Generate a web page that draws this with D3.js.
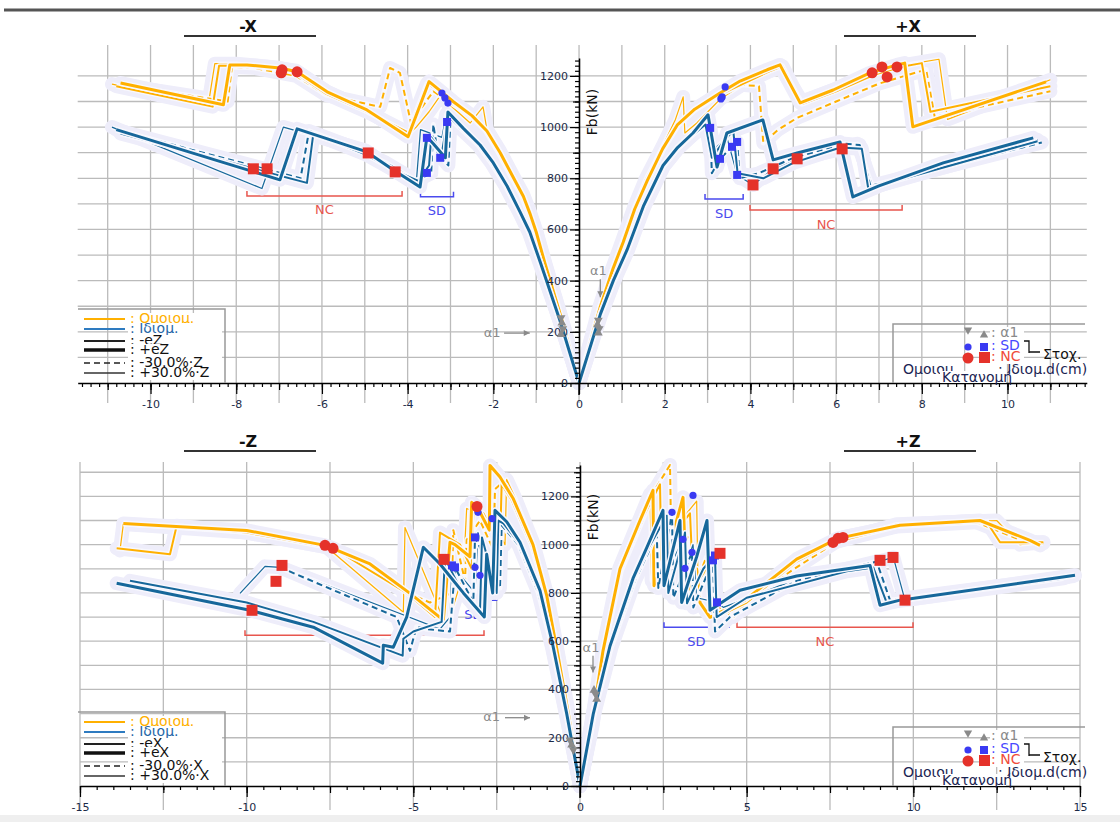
<!DOCTYPE html>
<html>
<head>
<meta charset="utf-8">
<script src="https://cdn.jsdelivr.net/npm/d3@7"></script>
<style>
  body { margin: 0; background: #fff; }
  svg { display: block; }
  text { font-family: "DejaVu Sans", sans-serif; }
</style>
</head>
<body>
<svg id="chart" width="1120" height="822"></svg>
<script>
// ---- tick values ----
const xTicksTop = [-10, -8, -6, -4, -2, 0, 2, 4, 6, 8, 10];
const xTicksBottom = [-15, -10, -5, 0, 5, 10, 15];
const yTicks = [0, 200, 400, 600, 800, 1000, 1200];
const legendNames = ['Ομοιομ.', 'Ιδιομ.', '-e', '+e', '-30.0%·', '+30.0%·'];

// ---- pushover curves, [d(cm), Fb(kN)] ----
// -X
const mX_O_pe = [[0,0],[-0.4,246],[-0.8,470],[-1.0,590],[-1.14,660],[-1.3,730],[-1.54,805],[-1.84,900],[-2.15,985],[-2.5,1045],[-2.94,1100],[-3.3,1150],[-3.5,1178],[-3.99,962],[-4.95,1067],[-5.88,1138],[-6.58,1216],[-6.98,1231],[-7.75,1243],[-8.15,1243],[-8.3,1087],[-10.7,1172]];
const mX_O_ne = [[0,0],[-0.4,240],[-0.8,465],[-1.0,585],[-1.15,655],[-1.3,725],[-1.54,800],[-1.84,895],[-2.15,980],[-2.5,1040],[-2.94,1095],[-3.35,1150],[-3.55,1170],[-3.85,1040],[-3.95,975],[-4.95,1060],[-5.9,1130],[-6.6,1210],[-7.0,1228],[-7.9,1240],[-8.4,1240],[-8.55,1080],[-10.8,1160]];
const mX_O_np = [[0,0],[-0.42,245],[-0.85,480],[-1.05,595],[-1.2,665],[-1.35,735],[-1.6,810],[-1.9,905],[-2.2,990],[-2.6,1052],[-3.0,1095],[-3.4,1140],[-3.7,1070],[-3.9,1000],[-4.18,1212],[-4.41,1231],[-4.64,1079],[-5.9,1125],[-6.6,1200],[-7.6,1232],[-8.1,1235],[-8.2,1100],[-10.5,1160]];
const mX_O_pp = [[0,0],[-0.4,250],[-0.8,475],[-1.0,595],[-1.14,665],[-1.3,735],[-1.54,810],[-1.84,905],[-2.15,990],[-2.24,1079],[-2.54,1016],[-2.9,1070],[-3.25,1120],[-3.5,1060],[-3.8,1000],[-4.0,968],[-5.0,1070],[-5.9,1140],[-6.6,1220],[-7.2,1235],[-8.0,1248],[-8.5,1248],[-8.65,1090],[-10.9,1168]];
const mX_B_pe = [[0,0],[-0.45,246],[-0.9,470],[-1.15,590],[-1.38,670],[-1.68,770],[-2.0,860],[-2.31,930],[-2.7,995],[-3.06,1059],[-3.12,880],[-3.4,935],[-3.55,962],[-3.71,766],[-4.34,833],[-4.95,903],[-6.58,993],[-6.98,794],[-10.8,990]];
const mX_B_ne = [[0,0],[-0.45,240],[-0.9,465],[-1.15,585],[-1.38,665],[-1.7,768],[-2.0,856],[-2.31,925],[-2.7,990],[-3.0,1035],[-3.08,1020],[-3.2,900],[-3.45,960],[-3.5,850],[-3.75,790],[-4.3,830],[-5.0,895],[-6.2,975],[-6.35,782],[-10.7,975]];
const mX_B_np = [[0,0],[-0.46,245],[-0.92,468],[-1.17,588],[-1.4,668],[-1.72,770],[-2.05,860],[-2.35,928],[-2.75,992],[-3.0,1030],[-3.05,850],[-3.3,900],[-3.4,1010],[-3.45,820],[-3.8,790],[-4.5,860],[-5.2,915],[-6.3,985],[-6.5,800],[-10.6,980]];
const mX_B_pp = [[0,0],[-0.44,248],[-0.88,472],[-1.13,592],[-1.36,672],[-1.66,772],[-1.98,862],[-2.3,932],[-2.68,998],[-3.1,1050],[-3.2,960],[-3.7,990],[-3.8,780],[-4.25,825],[-5.0,910],[-6.9,1000],[-7.4,760],[-10.9,1000]];
// +X
const pX_O_pe = [[0,0],[0.5,300],[0.8,450],[1.03,550],[1.3,680],[1.59,790],[1.95,915],[2.3,1010],[2.7,1070],[3.29,1133],[3.76,1180],[4.39,1224],[4.69,1243],[5.16,1095],[5.93,1145],[6.79,1212],[7.42,1243],[7.6,1250],[7.79,1001],[10.9,1177]];
const pX_O_ne = [[0,0],[0.5,295],[0.8,445],[1.03,545],[1.3,675],[1.6,785],[1.95,910],[2.3,1005],[2.7,1065],[3.3,1128],[3.9,1175],[4.4,1215],[4.75,1238],[5.2,1090],[6.0,1140],[6.9,1205],[7.5,1235],[8.0,1250],[8.2,1060],[11.0,1160]];
const pX_O_np = [[0,0],[0.52,300],[0.82,450],[1.05,548],[1.32,678],[1.6,785],[1.97,912],[2.32,1008],[2.72,1068],[3.3,1128],[3.8,1165],[4.2,1160],[4.3,938],[4.64,989],[5.09,1036],[6.0,1100],[7.0,1170],[7.9,1215],[8.1,1225],[8.3,1040],[11.0,1140]];
const pX_O_pp = [[0,0],[0.48,300],[0.78,450],[1.0,552],[1.28,685],[1.55,795],[1.95,925],[2.25,1030],[2.43,1118],[2.47,977],[2.75,1016],[3.3,1110],[3.8,1165],[4.3,1210],[4.7,1235],[5.2,1100],[6.0,1150],[6.9,1215],[7.5,1240],[8.4,1265],[8.6,1030],[11.0,1185]];
const pX_B_pe = [[0,0],[0.5,270],[0.8,400],[1.12,520],[1.5,690],[1.96,850],[2.3,920],[2.66,977],[3.01,1048],[3.22,844],[3.45,977],[4.29,1028],[4.53,872],[5.09,899],[6.09,942],[6.39,727],[7.0,770],[8.5,860],[10.6,958]];
const pX_B_ne = [[0,0],[0.5,265],[0.8,395],[1.12,515],[1.5,685],[1.96,845],[2.3,915],[2.66,970],[2.95,1010],[3.1,880],[3.4,950],[3.6,985],[3.7,820],[4.3,800],[5.0,860],[6.1,920],[6.6,915],[6.75,760],[10.7,945]];
const pX_B_np = [[0,0],[0.52,268],[0.82,398],[1.14,518],[1.52,688],[1.98,848],[2.32,918],[2.68,975],[2.9,1000],[3.06,997],[3.1,820],[3.29,876],[3.57,923],[3.69,942],[3.75,800],[4.2,820],[5.0,880],[6.2,935],[6.55,930],[6.8,770],[10.8,940]];
const pX_B_pp = [[0,0],[0.48,272],[0.78,402],[1.1,522],[1.48,692],[1.94,852],[2.28,922],[2.64,980],[2.99,1016],[3.06,900],[3.45,960],[3.69,813],[4.06,774],[4.53,837],[5.09,876],[6.14,915],[6.5,935],[6.86,766],[10.7,950]];
// -Z
const mZ_O_pe = [[0,0],[-0.35,300],[-0.69,563],[-1.0,790],[-1.41,1000],[-2.0,1190],[-2.4,1280],[-2.7,1328],[-2.72,1060],[-3.09,1158],[-3.25,1175],[-3.3,950],[-3.75,1000],[-3.9,1010],[-4.1,687],[-5.1,798],[-6.3,920],[-7.65,997],[-10,1059],[-13.7,1088]];
const mZ_O_ne = [[0,0],[-0.35,295],[-0.7,560],[-1.02,785],[-1.45,995],[-2.05,1185],[-2.35,1250],[-2.4,1000],[-2.9,1130],[-3.2,1140],[-3.25,900],[-3.6,1000],[-4.2,1050],[-4.35,700],[-5.2,800],[-7.4,985],[-10,1050],[-12.1,1078],[-12.3,960],[-13.9,985]];
const mZ_O_np = [[0,0],[-0.36,298],[-0.7,560],[-1.02,788],[-1.45,998],[-2.05,1190],[-2.3,1260],[-2.55,1230],[-2.6,980],[-3.0,1100],[-3.4,1020],[-3.45,850],[-3.8,1060],[-3.85,800],[-4.5,760],[-5.0,790],[-7.5,990],[-10,1055],[-13.5,1085]];
const mZ_O_pp = [[0,0],[-0.34,302],[-0.68,566],[-0.99,795],[-1.4,1005],[-1.95,1195],[-2.2,1270],[-2.25,1000],[-2.6,1100],[-3.4,1150],[-3.5,880],[-3.9,700],[-4.05,674],[-5.25,1071],[-5.3,720],[-7.6,990],[-10,1050],[-13.7,1085],[-13.8,976]];
const mZ_B_pe = [[0,0],[-0.4,300],[-0.81,580],[-1.2,810],[-1.8,1010],[-2.2,1095],[-2.55,1142],[-2.62,800],[-2.8,960],[-2.87,700],[-3.5,800],[-4.2,920],[-4.7,989],[-5.2,700],[-5.6,575],[-5.9,583],[-5.92,509],[-8.0,658],[-9.9,728],[-13.9,840]];
const mZ_B_ne = [[0,0],[-0.41,297],[-0.83,578],[-1.22,805],[-1.82,1005],[-2.3,1088],[-2.45,1100],[-2.5,800],[-2.94,1030],[-3.0,720],[-3.6,820],[-4.05,943],[-4.15,680],[-5.0,640],[-5.3,610],[-5.32,540],[-8.0,680],[-10,760],[-13.5,850]];
const mZ_B_np = [[0,0],[-0.42,295],[-0.84,575],[-1.25,800],[-1.85,1000],[-2.35,1080],[-2.4,820],[-3.15,1030],[-3.2,760],[-3.75,906],[-3.9,640],[-4.6,650],[-4.9,660],[-5.1,560],[-5.5,700],[-9.0,906]];
const mZ_B_pp = [[0,0],[-0.4,302],[-0.8,585],[-1.19,815],[-1.78,1013],[-2.5,1130],[-2.6,1140],[-2.65,850],[-3.06,1050],[-3.15,800],[-3.84,914],[-3.9,700],[-4.2,650],[-5.5,720],[-9.0,906],[-9.45,910],[-10.2,798]];
// +Z
const pZ_O_pe = [[0,0],[0.35,250],[0.69,560],[1.2,900],[1.8,1100],[2.19,1225],[2.22,830],[2.7,1000],[3.09,1196],[3.2,800],[3.5,900],[3.6,760],[3.9,699],[4.95,770],[6.5,940],[7.74,1026],[9.6,1080],[12,1100],[13.5,1018],[13.8,997]];
const pZ_O_ne = [[0,0],[0.36,248],[0.7,556],[1.22,895],[1.82,1095],[2.4,1250],[2.45,880],[2.9,1060],[3.3,1130],[3.4,820],[3.8,900],[4.1,700],[5.0,760],[6.5,930],[7.6,1009],[9.5,1075],[12.2,1095],[12.6,1010],[13.9,1010]];
const pZ_O_np = [[0,0],[0.37,246],[0.71,553],[1.24,892],[1.85,1092],[2.3,1240],[2.7,1330],[2.75,900],[3.3,1050],[3.35,800],[3.8,950],[4.0,760],[4.6,700],[5.2,790],[7.89,1030],[9.8,1085],[11.8,1098],[13.2,1020],[13.9,1005]];
const pZ_O_pp = [[0,0],[0.34,252],[0.68,563],[1.18,903],[1.78,1103],[2.1,1210],[2.15,850],[2.6,1030],[3.5,1180],[3.55,760],[4.1,700],[5.0,780],[7.6,1009],[9.5,1085],[12.5,1100],[13.2,1000],[13.9,1010]];
const pZ_B_pe = [[0,0],[0.4,300],[0.9,580],[1.59,860],[2.01,990],[2.49,1142],[2.52,830],[3.0,1100],[3.05,760],[3.5,950],[3.81,1100],[3.9,728],[4.8,811],[6.5,870],[8.7,914],[9.0,749],[9.6,770],[14.85,873]];
const pZ_B_ne = [[0,0],[0.41,297],[0.92,576],[1.62,855],[2.05,985],[2.6,1120],[2.65,800],[3.15,1050],[3.21,757],[3.7,900],[4.05,955],[4.1,700],[5.0,780],[8.0,890],[8.8,905],[9.2,760],[14.5,860]];
const pZ_B_np = [[0,0],[0.42,295],[0.94,573],[1.65,852],[2.1,982],[2.3,1060],[2.35,820],[2.76,1134],[2.8,780],[3.36,968],[3.4,740],[3.99,935],[4.05,640],[4.5,700],[6.5,850],[8.9,930],[9.3,770],[14.6,865]];
const pZ_B_pp = [[0,0],[0.39,302],[0.88,583],[1.56,864],[1.98,995],[2.45,1130],[2.5,850],[3.09,1022],[3.15,902],[3.39,1000],[3.5,780],[4.11,761],[4.3,740],[6.0,830],[8.7,920],[9.4,947],[9.75,770],[14.8,870]];

// ---- performance points ----
const redCirclesX = [[-6.93,1224],[-6.58,1216],[-6.95,1212],[6.84,1212],[7.07,1235],[7.19,1196],[7.42,1235]];
const redSquaresX = [[-7.6,837],[-7.28,837],[-4.92,899],[-4.29,825],[4.06,774],[4.53,837],[5.09,876],[6.14,915]];
const blueDotsX = [[-3.2,1133],[-3.13,1114],[-3.06,1094],[3.41,1157],[3.34,1118],[3.31,1110]];
const blueSquaresX = [[-3.55,958],[-3.55,821],[-3.24,880],[-3.08,1020],[3.06,997],[3.29,876],[3.57,923],[3.69,942],[3.69,813]];
const alphaX = [[-0.42,255],[-0.4,235],[-0.38,212],[-0.42,190],[0.45,245],[0.43,228],[0.47,212],[0.45,196]];
const redCirclesZ = [[-3.09,1158],[-7.65,997],[-7.41,985],[7.59,1009],[7.74,1026],[7.89,1030]];
const redSquaresZ = [[-9.84,728],[-9.12,848],[-8.94,914],[-4.08,939],[4.2,964],[9.0,935],[9.39,947],[9.75,770]];
const blueDotsZ = [[-3.06,1134],[-2.64,1108],[-3.15,906],[-3.0,873],[3.39,1204],[2.76,1134],[3.09,1022],[3.36,968],[3.15,902]];
const blueSquaresZ = [[-3.15,1030],[-3.84,914],[-3.75,906],[3.99,935],[4.05,955],[4.11,761]];
const alphaZ = [[-0.3,190],[-0.25,170],[-0.2,150],[0.42,397],[0.47,380],[0.5,360]];

// ---- SD / NC ranges ----
const rangesX = [
  { lab: 'NC', x0: -7.75, x1: -4.13, lvl: 731 },
  { lab: 'SD', x0: -3.7, x1: -2.93, lvl: 728 },
  { lab: 'SD', x0: 2.94, x1: 3.83, lvl: 719 },
  { lab: 'NC', x0: 3.99, x1: 7.54, lvl: 676 }
];
const rangesZ = [
  { lab: 'NC', x0: -10.05, x1: -2.88, lvl: 625 },
  { lab: 'SD', x0: -3.9, x1: -2.5, lvl: 770 },
  { lab: 'SD', x0: 2.52, x1: 4.47, lvl: 658 },
  { lab: 'NC', x0: 4.71, x1: 9.99, lvl: 658 }
];

const ORANGE = '#FFB000', BLUE = '#16679A', RED = '#E5322A', MBLUE = '#3A3AF2', GRAY = '#8A8A8A';
const STYLE = {
  ne: { w: 2, dash: null },
  pe: { w: 3, dash: null },
  np: { w: 2, dash: '6,4' },
  pp: { w: 1.2, dash: null }
};

const svg = d3.select('#chart');

function group(col, sets) {
  return [['pp', sets.pp], ['np', sets.np], ['ne', sets.ne], ['pe', sets.pe]]
    .map(([st, pts]) => ({ col, st, pts }));
}

const panels = [
  {
    xDomain: [-11.7, 11.85], xRange: [77.7, 1086.8], yDomain: [0, 1270], yRange: [383, 58],
    gridX: d3.range(-11, 12, 1), gridY: d3.range(100, 1201, 100), gridTop: 45, gridBelow: 20,
    xTicks: xTicksTop, xMid: d3.range(-11, 12, 1), xMinor: d3.range(-58, 60).map(i => i / 5),
    fbAt: 1059, dir: 'Z', titles: [['-X', 248], ['+X', 908]], titleY: 27,
    curves: [
      ...group(ORANGE, { pe: mX_O_pe, ne: mX_O_ne, np: mX_O_np, pp: mX_O_pp }),
      ...group(ORANGE, { pe: pX_O_pe, ne: pX_O_ne, np: pX_O_np, pp: pX_O_pp }),
      ...group(BLUE, { pe: mX_B_pe, ne: mX_B_ne, np: mX_B_np, pp: mX_B_pp }),
      ...group(BLUE, { pe: pX_B_pe, ne: pX_B_ne, np: pX_B_np, pp: pX_B_pp })
    ],
    redC: redCirclesX, redS: redSquaresX, blueC: blueDotsX, blueS: blueSquaresX, alpha: alphaX,
    ranges: rangesX,
    a1Left: [-2.03, 195, -1.75, -1.15], a1Right: [0.45, 435, 405, 335]
  },
  {
    xDomain: [-15, 15], xRange: [80, 1080], yDomain: [0, 1330], yRange: [786, 465],
    gridX: d3.range(-15, 15.1, 2.5), gridY: d3.range(100, 1301, 100), gridTop: 462, gridBelow: 24,
    xTicks: xTicksBottom, xMid: d3.range(-15, 15.1, 2.5), xMinor: d3.range(-30, 31).map(i => i / 2),
    fbAt: 1114, dir: 'X', titles: [['-Z', 248], ['+Z', 908]], titleY: 442,
    curves: [
      ...group(ORANGE, { pe: mZ_O_pe, ne: mZ_O_ne, np: mZ_O_np, pp: mZ_O_pp }),
      ...group(ORANGE, { pe: pZ_O_pe, ne: pZ_O_ne, np: pZ_O_np, pp: pZ_O_pp }),
      ...group(BLUE, { pe: mZ_B_pe, ne: mZ_B_ne, np: mZ_B_np, pp: mZ_B_pp }),
      ...group(BLUE, { pe: pZ_B_pe, ne: pZ_B_ne, np: pZ_B_np, pp: pZ_B_pp })
    ],
    redC: redCirclesZ, redS: redSquaresZ, blueC: blueDotsZ, blueS: blueSquaresZ, alpha: alphaZ,
    ranges: rangesZ,
    a1Left: [-2.65, 283, -2.25, -1.5], a1Right: [0.33, 570, 540, 470]
  }
];

// top rule and bottom band
svg.append('line').attr('x1', 4).attr('x2', 1120).attr('y1', 10).attr('y2', 10)
  .attr('stroke', '#555').attr('stroke-width', 3);
svg.append('rect').attr('x', 0).attr('y', 815).attr('width', 1120).attr('height', 7).attr('fill', '#efefef');

function styleTicks(sel) {
  sel.select('.domain').attr('stroke', '#000').attr('stroke-width', 1.5);
  sel.selectAll('.tick line').attr('stroke', '#000').attr('stroke-width', 1.2);
  sel.selectAll('text').attr('font-family', '"DejaVu Sans Condensed", "DejaVu Sans", sans-serif')
    .attr('font-size', 11).attr('fill', '#1b2a48');
}

function drawPanel(p) {
  const x = d3.scaleLinear().domain(p.xDomain).range(p.xRange);
  const y = d3.scaleLinear().domain(p.yDomain).range(p.yRange);
  const ax = x(0), ay = y(0);
  const g = svg.append('g');

  // grid
  const grid = g.append('g').attr('stroke', '#bbbbbb').attr('stroke-width', 1.3);
  grid.selectAll('.gv').data(p.gridX).enter().append('line')
    .attr('x1', d => x(d)).attr('x2', d => x(d))
    .attr('y1', p.gridTop).attr('y2', ay + p.gridBelow);
  grid.selectAll('.gh').data(p.gridY).enter().append('line')
    .attr('x1', p.xRange[0]).attr('x2', p.xRange[1])
    .attr('y1', d => y(d)).attr('y2', d => y(d));

  // SD / NC ranges
  p.ranges.forEach(r => {
    const col = r.lab === 'NC' ? '#E8564E' : '#4A4AEE';
    g.append('path')
      .attr('d', `M${x(r.x0)},${y(r.lvl) - 5}V${y(r.lvl)}H${x(r.x1)}V${y(r.lvl) - 5}`)
      .attr('fill', 'none').attr('stroke', col).attr('stroke-width', 1.5);
    g.append('text').attr('x', (x(r.x0) + x(r.x1)) / 2).attr('y', y(r.lvl) + 15)
      .attr('text-anchor', 'middle').attr('dominant-baseline', 'middle')
      .attr('font-size', 13).attr('fill', col).text(r.lab);
  });

  // curves: halo first, then lines
  const line = d3.line().x(d => x(d[0])).y(d => y(d[1]));
  g.append('g').selectAll('path').data(p.curves).enter().append('path')
    .attr('d', d => line(d.pts)).attr('fill', 'none')
    .attr('stroke', '#EEEDFA').attr('stroke-width', 14)
    .attr('stroke-linejoin', 'round').attr('stroke-linecap', 'round');
  const cg = g.append('g').attr('fill', 'none').attr('stroke-linejoin', 'round');
  p.curves.forEach(c => {
    const s = STYLE[c.st];
    cg.append('path').attr('d', line(c.pts)).attr('stroke', '#f8f8fe').attr('stroke-width', s.w + 3);
    cg.append('path').attr('d', line(c.pts)).attr('stroke', c.col).attr('stroke-width', s.w)
      .attr('stroke-dasharray', s.dash);
  });

  // axes
  const xa = g.append('g').attr('transform', `translate(0,${ay})`);
  xa.call(d3.axisBottom(x).tickValues(p.xMinor).tickSize(4).tickFormat('').tickSizeOuter(0));
  xa.append('g').call(d3.axisBottom(x).tickValues(p.xMid).tickSize(7).tickFormat(''))
    .select('.domain').remove();
  xa.append('g').call(d3.axisBottom(x).tickValues(p.xTicks).tickSize(11).tickPadding(6).tickFormat(d => String(d)))
    .select('.domain').remove();
  styleTicks(xa);
  xa.selectAll('g g').each(function () { styleTicks(d3.select(this)); });

  const ya = g.append('g').attr('transform', `translate(${ax},0)`);
  ya.call(d3.axisLeft(y).tickValues(d3.range(0, p.yDomain[1], 20)).tickSize(4).tickFormat('').tickSizeOuter(0));
  ya.append('g').call(d3.axisLeft(y).tickValues(d3.range(100, p.yDomain[1], 200)).tickSize(6).tickFormat(''))
    .select('.domain').remove();
  ya.append('g').call(d3.axisLeft(y).tickValues(yTicks).tickSize(9).tickPadding(2).tickFormat(d => String(d)))
    .select('.domain').remove();
  styleTicks(ya);
  ya.selectAll('g g').each(function () { styleTicks(d3.select(this)); });
  g.append('line').attr('x1', ax).attr('x2', ax).attr('y1', ay).attr('y2', ay + 12)
    .attr('stroke', '#000').attr('stroke-width', 1.5);

  g.append('text').attr('transform', `translate(${ax + 14},${y(p.fbAt)}) rotate(-90)`)
    .attr('text-anchor', 'middle').attr('dominant-baseline', 'middle')
    .attr('font-size', 14).attr('fill', '#111').text('Fb(kN)');

  // alpha1 markers
  const tri = d3.symbol(d3.symbolTriangle, 34);
  g.append('g').selectAll('path').data(p.alpha).enter().append('path')
    .attr('d', tri)
    .attr('transform', (d, i) => `translate(${x(d[0])},${y(d[1])}) rotate(${i % 2 ? 0 : 180})`)
    .attr('fill', GRAY);

  // performance points
  g.append('g').selectAll('circle').data(p.blueC).enter().append('circle')
    .attr('cx', d => x(d[0])).attr('cy', d => y(d[1])).attr('r', 3.6).attr('fill', MBLUE);
  g.append('g').selectAll('rect').data(p.blueS).enter().append('rect')
    .attr('x', d => x(d[0]) - 4).attr('y', d => y(d[1]) - 4).attr('width', 8).attr('height', 8).attr('fill', MBLUE);
  g.append('g').selectAll('circle').data(p.redC).enter().append('circle')
    .attr('cx', d => x(d[0])).attr('cy', d => y(d[1])).attr('r', 5.5).attr('fill', RED);
  g.append('g').selectAll('rect').data(p.redS).enter().append('rect')
    .attr('x', d => x(d[0]) - 5.5).attr('y', d => y(d[1]) - 5.5).attr('width', 11).attr('height', 11).attr('fill', RED);

  // alpha1 annotations
  const [lx, ly, la0, la1] = p.a1Left;
  g.append('text').attr('x', x(lx)).attr('y', y(ly)).attr('text-anchor', 'middle')
    .attr('dominant-baseline', 'middle').attr('font-size', 13).attr('fill', GRAY).text('α1');
  drawArrow(g, x(la0), y(ly), x(la1), y(ly));
  const [rx, ry, ra0, ra1] = p.a1Right;
  g.append('text').attr('x', x(rx)).attr('y', y(ry)).attr('text-anchor', 'middle')
    .attr('dominant-baseline', 'middle').attr('font-size', 13).attr('fill', GRAY).text('α1');
  drawArrow(g, x(rx) + 2, y(ra0), x(rx) + 2, y(ra1));

  // titles
  p.titles.forEach(([t, cx]) => {
    g.append('text').attr('x', cx).attr('y', p.titleY).attr('text-anchor', 'middle')
      .attr('dominant-baseline', 'middle')
      .attr('font-family', '"Liberation Sans Narrow", "DejaVu Sans Condensed", sans-serif')
      .attr('font-weight', 'bold').attr('font-size', 16).attr('fill', '#111').text(t);
    g.append('line').attr('x1', cx - 64).attr('x2', cx + 68).attr('y1', p.titleY + 9).attr('y2', p.titleY + 9)
      .attr('stroke', '#333').attr('stroke-width', 2);
  });

  legendLeft(ay, p.dir);
  legendRight(ay);
}

function drawArrow(g, x0, y0, x1, y1) {
  g.append('line').attr('x1', x0).attr('y1', y0).attr('x2', x1).attr('y2', y1)
    .attr('stroke', GRAY).attr('stroke-width', 1.3);
  const ang = Math.atan2(y1 - y0, x1 - x0);
  const a = 6, b = 3;
  const p1 = [x1 - a * Math.cos(ang) + b * Math.sin(ang), y1 - a * Math.sin(ang) - b * Math.cos(ang)];
  const p2 = [x1 - a * Math.cos(ang) - b * Math.sin(ang), y1 - a * Math.sin(ang) + b * Math.cos(ang)];
  g.append('path').attr('d', `M${x1},${y1}L${p1}L${p2}Z`).attr('fill', GRAY);
}

function legendLeft(ay, dir) {
  const g = svg.append('g');
  g.append('path').attr('d', `M78,${ay - 74}H225V${ay}`).attr('fill', 'none')
    .attr('stroke', '#999').attr('stroke-width', 1.5);
  const offs = [64, 54, 42, 33, 20, 10];
  const rows = [
    { col: ORANGE, w: 2, dash: null, tc: ORANGE },
    { col: '#2E7BC0', w: 2, dash: null, tc: '#2667A8' },
    { col: '#222', w: 2, dash: null, tc: '#111' },
    { col: '#111', w: 3.5, dash: null, tc: '#111' },
    { col: '#222', w: 1.6, dash: '6,4', tc: '#111' },
    { col: '#333', w: 1.5, dash: null, tc: '#111' }
  ];
  rows.forEach((r, i) => {
    const cy = ay - offs[i];
    const name = i < 2 ? legendNames[i] : legendNames[i] + dir;
    g.append('line').attr('x1', 84).attr('x2', 125).attr('y1', cy).attr('y2', cy)
      .attr('stroke', r.col).attr('stroke-width', r.w).attr('stroke-dasharray', r.dash);
    g.append('rect').attr('x', 128).attr('y', cy - 6).attr('width', 94).attr('height', 13).attr('fill', '#fff');
    g.append('text').attr('x', 130).attr('y', cy).attr('dominant-baseline', 'middle')
      .attr('font-size', 14).attr('fill', r.tc).text(': ' + name);
  });
}

function legendRight(ay) {
  const g = svg.append('g');
  g.append('path').attr('d', `M893,${ay}V${ay - 59}H1085`).attr('fill', 'none')
    .attr('stroke', '#999').attr('stroke-width', 1.5);
  const tri = d3.symbol(d3.symbolTriangle, 30);
  g.append('path').attr('d', tri).attr('transform', `translate(968,${ay - 53}) rotate(180)`).attr('fill', GRAY);
  g.append('path').attr('d', tri).attr('transform', `translate(984,${ay - 48})`).attr('fill', GRAY);
  g.append('circle').attr('cx', 968).attr('cy', ay - 36).attr('r', 3.6).attr('fill', MBLUE);
  g.append('rect').attr('x', 980).attr('y', ay - 40).attr('width', 8).attr('height', 8).attr('fill', MBLUE);
  g.append('circle').attr('cx', 968).attr('cy', ay - 25).attr('r', 5.5).attr('fill', RED);
  g.append('rect').attr('x', 979).attr('y', ay - 31).attr('width', 11).attr('height', 11).attr('fill', RED);
  const rows = [[': α1', GRAY, 50], [': SD', '#4848FF', 37], [': NC', '#F04A3A', 26]];
  rows.forEach(([t, c, o]) => {
    g.append('rect').attr('x', 990).attr('y', ay - o - 6).attr('width', 34).attr('height', 13).attr('fill', '#fff');
    g.append('text').attr('x', 991).attr('y', ay - o).attr('dominant-baseline', 'middle')
      .attr('font-size', 14).attr('fill', c).text(t);
  });
  g.append('path').attr('d', `M1024,${ay - 42}H1029V${ay - 30}M1029,${ay - 31}H1040`)
    .attr('fill', 'none').attr('stroke', '#111').attr('stroke-width', 1.3);
  g.append('text').attr('x', 1043).attr('y', ay - 28).attr('dominant-baseline', 'middle')
    .attr('font-size', 14).attr('fill', '#111').text('Στοχ.');
  g.append('text').attr('x', 903).attr('y', ay - 13).attr('dominant-baseline', 'middle')
    .attr('font-size', 14).attr('fill', '#1b2452').text('Ομοιομ.');
  g.append('text').attr('x', 998).attr('y', ay - 13).attr('dominant-baseline', 'middle')
    .attr('font-size', 14).attr('fill', '#1b2452').text(': Ιδιομ.');
  g.append('rect').attr('x', 940).attr('y', ay - 12).attr('width', 66).attr('height', 12).attr('fill', '#fff');
  g.append('text').attr('x', 942).attr('y', ay - 5).attr('dominant-baseline', 'middle')
    .attr('font-size', 14).attr('fill', '#1b2452').text('Κατανομή');
  g.append('text').attr('x', 1046).attr('y', ay - 13).attr('dominant-baseline', 'middle')
    .attr('font-size', 14).attr('fill', '#1b2452').text('d(cm)');
}

panels.forEach(drawPanel);
</script>
</body>
</html>
